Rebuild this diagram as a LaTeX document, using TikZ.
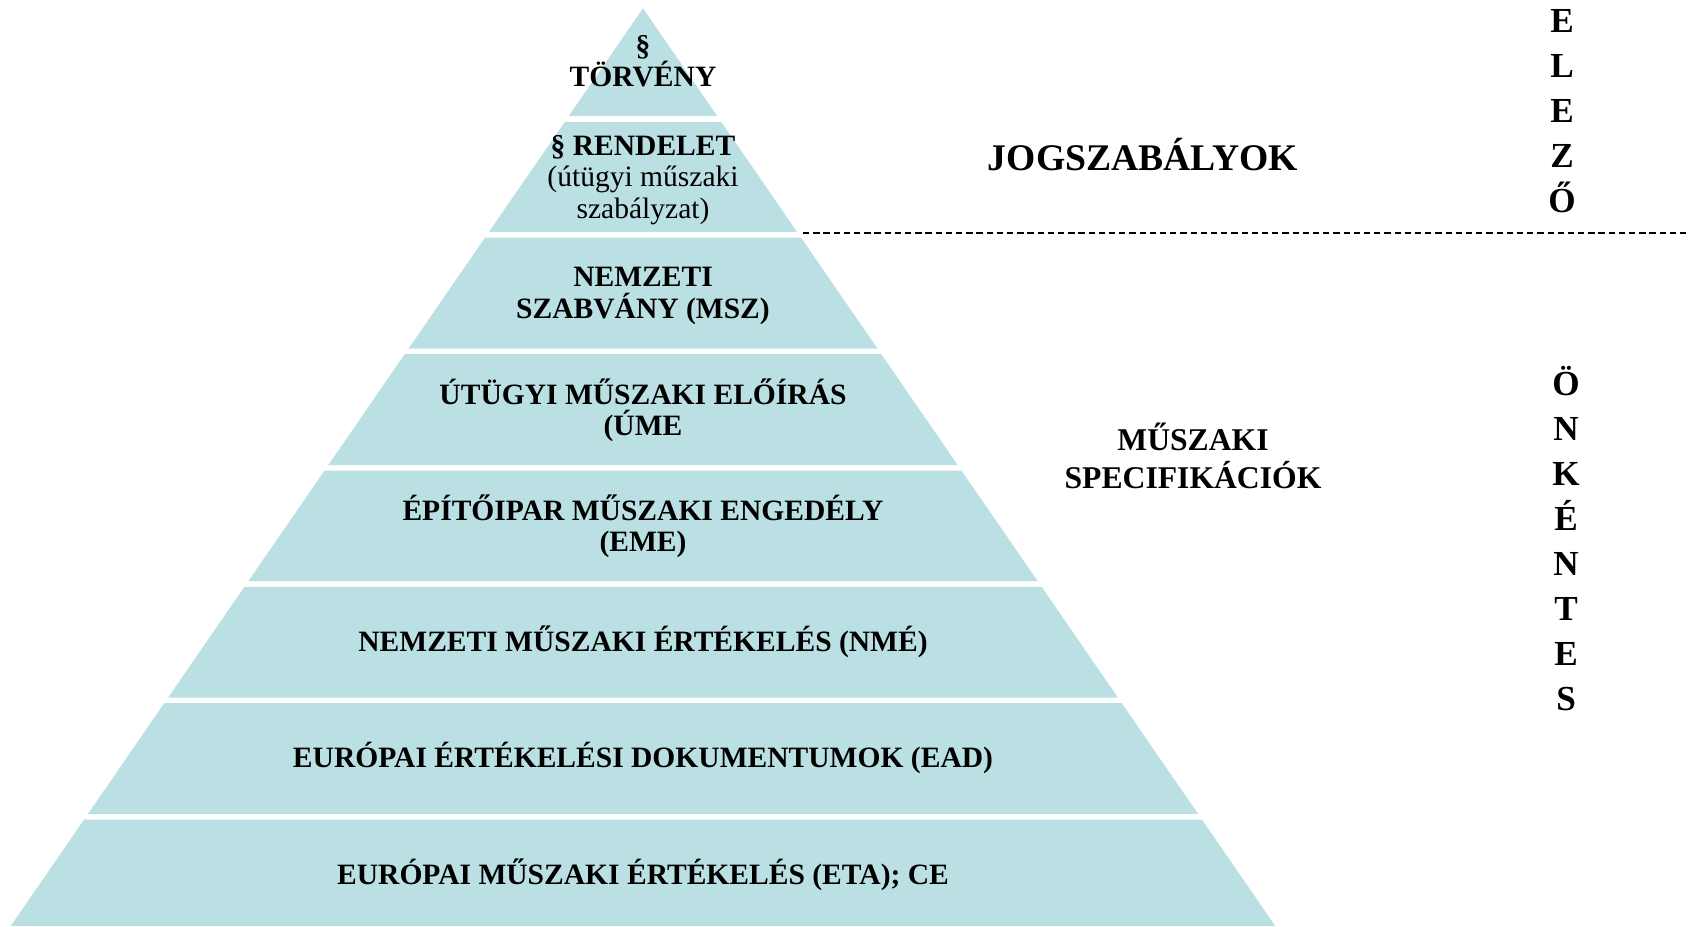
\documentclass[tikz,border=0pt]{standalone}
\usepackage{fontspec}
\setmainfont{Liberation Serif}
\usetikzlibrary{positioning}

\definecolor{bandcolor}{RGB}{187,224,227}

\begin{document}
\begin{tikzpicture}[x=0.01cm,y=-0.01cm]
		\tikzset{band/.style={fill=bandcolor},
			level/.style={font=\bfseries\fontsize{8.4}{8.9}\selectfont,align=center,inner sep=0pt},
			sidelabel/.style={font=\bfseries\fontsize{9}{10.8}\selectfont,align=center,inner sep=0pt},
			vletter/.style={font=\bfseries\fontsize{10}{10}\selectfont,anchor=base,inner sep=0pt}}
		\useasboundingbox (0,0) rectangle (1689,926);
		% pyramid bands (apex at 643/8.3)
		\foreach \t/\b in {8.3/116,122/232,237.5/348.5,354/465,470.5/581,587/697.5,703/814,819.5/926}{
			\fill[band] ({643-0.689*(\t-8.3)},\t) -- ({643+0.689*(\t-8.3)},\t)
				-- ({643+0.689*(\b-8.3)},\b) -- ({643-0.689*(\b-8.3)},\b) -- cycle;
		}
		% texts of the levels
		\node[level] (torveny) at (643,61) {§\\TÖRVÉNY};
		\node[level] (rendelet) at (643,180) {§ RENDELET\\\mdseries(útügyi műszaki\\\mdseries szabályzat)};
		\node[level] (msz) at (643,296) {NEMZETI\\SZABVÁNY (MSZ)};
		\node[level] (ume) at (643,410) {ÚTÜGYI MŰSZAKI ELŐÍRÁS\\(ÚME};
		\node[level] (eme) at (643,526) {ÉPÍTŐIPAR MŰSZAKI ENGEDÉLY\\(EME)};
		\node[level] (nme) at (643,642) {NEMZETI MŰSZAKI ÉRTÉKELÉS (NMÉ)};
		\node[level] (ead) at (643,758) {EURÓPAI ÉRTÉKELÉSI DOKUMENTUMOK (EAD)};
		\node[level] (eta) at (643,875) {EURÓPAI MŰSZAKI ÉRTÉKELÉS (ETA); CE};
		% right side
		\node[level,font=\bfseries\fontsize{10.7}{10.7}\selectfont] (jog) at (1143,155) {JOGSZABÁLYOK};
		\node[sidelabel] (spec) at (1193,456) {MŰSZAKI\\SPECIFIKÁCIÓK};
		\coordinate (dashl) at (803,233);
		\coordinate (dashr) at (1689,233);
		\draw[dash pattern=on 1.8pt off 1.1pt,line width=0.5pt] (dashl) -- (dashr);
		\foreach \l [count=\i from 0] in {E,L,E,Z,Ő}{
			\node[vletter] (kot\i) at (1562,{32+45*\i}) {\l};
		}
		\foreach \l [count=\i from 0] in {Ö,N,K,É,N,T,E,S}{
			\node[vletter] (onk\i) at (1566,{395+45*\i}) {\l};
		}
\end{tikzpicture}
\end{document}
